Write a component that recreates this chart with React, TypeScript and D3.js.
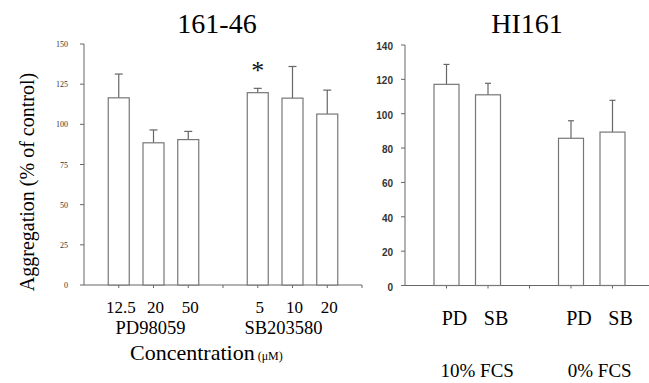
import React from "react";
import * as d3 from "d3";

// left panel: 161-46
const leftLabels = ["12.5", "20", "50", "", "5", "10", "20"];
const leftValues = [116.5, 88.5, 90.5, null, 119.7, 116.3, 106.4];
const leftErrors = [14.8, 8, 5.1, null, 2.7, 19.7, 14.9];
const leftTicks = [0, 25, 50, 75, 100, 125, 150];
const leftGroups = ["PD98059", "SB203580"];

// right panel: HI161
const rightLabels = ["PD", "SB", "", "PD", "SB"];
const rightValues = [117.1, 111, null, 85.7, 89.3];
const rightErrors = [11.6, 6.7, null, 10.2, 18.5];
const rightTicks = [0, 20, 40, 60, 80, 100, 120, 140];
const rightGroups = ["10% FCS", "0% FCS"];

const serif = "Liberation Serif, DejaVu Serif, Times New Roman, serif";
const sans = "Liberation Sans, Arial, sans-serif";
const axisColor = "#666";
const barColor = "#777";

export default function App() {
  // left scales
  const xL = d3.scaleLinear().domain([0, 8]).range([84, 362]);
  const yL = d3.scaleLinear().domain([0, 150]).range([285, 44]);
  // right scales
  const xR = d3.scaleLinear().domain([0, 6]).range([405, 654]);
  const yR = d3.scaleLinear().domain([0, 140]).range([285.5, 45]);

  const bwL = 21;
  const bwR = 25;

  return (
    <svg
      width={649}
      height={383}
      style={{ position: "absolute", left: 0, top: 0, background: "#fff", fontFamily: serif }}
    >
      {/* titles */}
      <text x={217} y={33} textAnchor="middle" style={{ fontFamily: serif }} fontSize={28}>
        161-46
      </text>
      <text x={527} y={33} textAnchor="middle" style={{ fontFamily: serif }} fontSize={28}>
        HI161
      </text>

      {/* y label */}
      <text
        transform="translate(34,182) rotate(-90)"
        textAnchor="middle"
        style={{ fontFamily: serif }}
        fontSize={20}
      >
        Aggregation (% of control)
      </text>

      {/* left axes */}
      <line x1={xL(0)} x2={xL(0)} y1={yL(150)} y2={yL(0)} stroke={axisColor} />
      <line x1={xL(0)} x2={xL(8)} y1={yL(0)} y2={yL(0)} stroke={axisColor} />
      {leftTicks.map((t) => (
        <g key={t}>
          <line x1={xL(0) - 4} x2={xL(0)} y1={yL(t)} y2={yL(t)} stroke={axisColor} />
          <text
            x={68}
            y={yL(t) + 3}
            textAnchor="end"
            style={{ fontFamily: serif }}
            fontSize={8}
            fill="#333"
          >
            {t}
          </text>
        </g>
      ))}
      {d3.range(1, 9).map((i) => (
        <line
          key={i}
          x1={xL(i)}
          x2={xL(i)}
          y1={yL(0)}
          y2={yL(0) + 3}
          stroke={axisColor}
        />
      ))}

      {/* left bars */}
      {leftValues.map((v, i) =>
        v == null ? null : (
          <g key={i}>
            <line
              x1={xL(i + 1)}
              x2={xL(i + 1)}
              y1={yL(v)}
              y2={yL(v + (leftErrors[i] as number))}
              stroke={axisColor}
              strokeWidth={1.2}
            />
            <line
              x1={xL(i + 1) - 4}
              x2={xL(i + 1) + 4}
              y1={yL(v + (leftErrors[i] as number))}
              y2={yL(v + (leftErrors[i] as number))}
              stroke={axisColor}
              strokeWidth={1.2}
            />
            <rect
              x={xL(i + 1) - bwL / 2}
              y={yL(v)}
              width={bwL}
              height={yL(0) - yL(v)}
              fill="#fff"
              stroke={barColor}
              strokeWidth={1.2}
            />
          </g>
        )
      )}
      <text
        x={xL(5)}
        y={79}
        textAnchor="middle"
        style={{ fontFamily: serif }}
        fontSize={26}
        fill="#111"
      >
        *
      </text>

      {/* left category labels */}
      {leftLabels.map((l, i) => (
        <text
          key={i}
          x={xL(i + 1) + 2}
          y={313}
          textAnchor="middle"
          style={{ fontFamily: serif }}
          fontSize={17}
        >
          {l}
        </text>
      ))}
      <text x={(xL(1) + xL(3)) / 2 - 3} y={334} textAnchor="middle" style={{ fontFamily: serif }} fontSize={18.5}>
        {leftGroups[0]}
      </text>
      <text x={(xL(5) + xL(7)) / 2 - 9} y={334} textAnchor="middle" style={{ fontFamily: serif }} fontSize={18.5}>
        {leftGroups[1]}
      </text>
      <text x={130} y={360} style={{ fontFamily: serif }} fontSize={22}>
        Concentration
        <tspan fontSize={12} dx={3}>(μM)</tspan>
      </text>

      {/* right axes */}
      <line x1={xR(0)} x2={xR(0)} y1={yR(140)} y2={yR(0)} stroke={axisColor} />
      <line x1={xR(0)} x2={xR(6)} y1={yR(0)} y2={yR(0)} stroke={axisColor} />
      {rightTicks.map((t) => (
        <g key={t}>
          <line x1={xR(0) - 4} x2={xR(0)} y1={yR(t)} y2={yR(t)} stroke={axisColor} />
          <text
            x={393}
            y={yR(t) + 5}
            textAnchor="end"
            style={{ fontFamily: sans }}
            fontWeight="bold"
            fontSize={10}
            fill="#333"
          >
            {t}
          </text>
        </g>
      ))}
      {d3.range(1, 6).map((i) => (
        <line
          key={i}
          x1={xR(i)}
          x2={xR(i)}
          y1={yR(0)}
          y2={yR(0) + 3}
          stroke={axisColor}
        />
      ))}

      {/* right bars */}
      {rightValues.map((v, i) =>
        v == null ? null : (
          <g key={i}>
            <line
              x1={xR(i + 1)}
              x2={xR(i + 1)}
              y1={yR(v)}
              y2={yR(v + (rightErrors[i] as number))}
              stroke={axisColor}
              strokeWidth={1.2}
            />
            <line
              x1={xR(i + 1) - 3}
              x2={xR(i + 1) + 3}
              y1={yR(v + (rightErrors[i] as number))}
              y2={yR(v + (rightErrors[i] as number))}
              stroke={axisColor}
              strokeWidth={1.2}
            />
            <rect
              x={xR(i + 1) - bwR / 2}
              y={yR(v)}
              width={bwR}
              height={yR(0) - yR(v)}
              fill="#fff"
              stroke={barColor}
              strokeWidth={1.2}
            />
          </g>
        )
      )}

      {/* right category labels */}
      {rightLabels.map((l, i) => (
        <text
          key={i}
          x={xR(i + 1) + 8}
          y={325}
          textAnchor="middle"
          style={{ fontFamily: serif }}
          fontSize={20}
        >
          {l}
        </text>
      ))}
      <text x={(xR(1) + xR(2)) / 2 + 10} y={377} textAnchor="middle" style={{ fontFamily: serif }} fontSize={19}>
        {rightGroups[0]}
      </text>
      <text x={(xR(4) + xR(5)) / 2 + 8} y={377} textAnchor="middle" style={{ fontFamily: serif }} fontSize={19}>
        {rightGroups[1]}
      </text>
    </svg>
  );
}
